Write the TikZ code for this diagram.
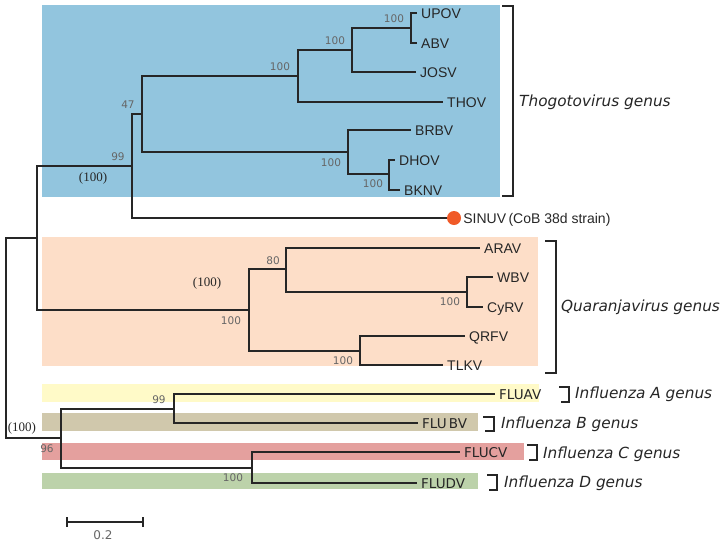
\documentclass[tikz,border=0pt]{standalone}
\usepackage{fontspec}
\setmainfont{Liberation Sans}
\newfontfamily\dvs{DejaVu Sans}
\newfontfamily\lserif{Liberation Serif}
\definecolor{thogo}{RGB}{146,197,222}
\definecolor{quara}{RGB}{253,222,200}
\definecolor{fluA}{RGB}{255,250,200}
\definecolor{fluB}{RGB}{208,200,172}
\definecolor{fluC}{RGB}{228,160,158}
\definecolor{fluD}{RGB}{188,210,170}
\definecolor{dotcol}{RGB}{240,90,40}
\tikzset{
  br/.style={line width=1.6pt, black!85},
  brk/.style={line width=1.6pt, black!85},
  taxon/.style={anchor=west, inner xsep=4pt, inner ysep=0pt, text height=10pt, text depth=0pt, font=\fontsize{14}{14}\selectfont, text=black!85},
  flu/.style={taxon, font=\dvs\fontsize{13.5}{14}\selectfont},
  boot/.style={inner sep=0pt, font=\dvs\fontsize{10.5}{10.5}\selectfont, text=black!60},
  pboot/.style={inner sep=0pt, font=\lserif\fontsize{13}{13}\selectfont, text=black!85},
  genus/.style={anchor=base west, inner sep=0pt, font=\dvs\itshape\fontsize{15.3}{16}\selectfont, text=black!85},
}
\begin{document}
\begin{tikzpicture}[x=1pt,y=-1pt]
\useasboundingbox (0,0) rectangle (725,544);
% colour bands
\fill[thogo] (42,5) rectangle (500,197);
\fill[quara] (42,237) rectangle (538,366);
\fill[fluA] (42,384) rectangle (539,402);
\fill[fluB] (42,413) rectangle (478,431);
\fill[fluC] (42,443) rectangle (524,460);
\fill[fluD] (42,473) rectangle (478,489);
% internal nodes
\coordinate (r) at (6,338);
\coordinate (a) at (37,238);
\coordinate (t) at (132,166);
\coordinate (t1) at (142,114);
\coordinate (t2) at (298,76);
\coordinate (t4) at (352,50);
\coordinate (t5) at (411,28);
\coordinate (t3) at (348,152);
\coordinate (t6) at (389,174);
\coordinate (q) at (249,310);
\coordinate (q1) at (286,269);
\coordinate (q3) at (467,292);
\coordinate (q2) at (360,351);
\coordinate (f) at (61,438);
\coordinate (f1) at (174,409);
\coordinate (f2) at (252,468);
% leaves
\node[taxon] (UPOV) at (417,13) {UPOV};
\node[taxon] (ABV) at (417,43) {ABV};
\node[taxon] (JOSV) at (416,72) {JOSV};
\node[taxon] (THOV) at (443,102) {THOV};
\node[taxon] (BRBV) at (411,130) {BRBV};
\node[taxon] (DHOV) at (395,160) {DHOV};
\node[taxon] (BKNV) at (400,190) {BKNV};
\node[circle, fill=dotcol, minimum size=14pt, inner sep=0pt] (dot) at (454,218) {};
\node[taxon, inner xsep=2pt] (SINUV) at (dot.east) {SINUV\,(CoB 38d strain)};
\node[taxon] (ARAV) at (480,248) {ARAV};
\node[taxon] (WBV) at (493,277) {WBV};
\node[taxon] (CyRV) at (483,307) {CyRV};
\node[taxon] (QRFV) at (465,336) {QRFV};
\node[taxon] (TLKV) at (443,365) {TLKV};
\node[flu] (FLUAV) at (495,394) {FLUAV};
\node[flu] (FLUBV) at (418,423) {FLU\,BV};
\node[flu] (FLUCV) at (460,452) {FLUCV};
\node[flu] (FLUDV) at (417,483) {FLUDV};
% branches
\draw[br] (r) |- (a);
\draw[br] (r) |- (f);
\draw[br] (a) |- (t);
\draw[br] (a) |- (q);
\draw[br] (t) |- (t1);
\draw[br] (t) |- (dot.west);
\draw[br] (t1) |- (t2);
\draw[br] (t1) |- (t3);
\draw[br] (t2) |- (t4);
\draw[br] (t2) |- (THOV.west);
\draw[br] (t4) |- (t5);
\draw[br] (t4) |- (JOSV.west);
\draw[br] (t5) |- (UPOV.west);
\draw[br] (t5) |- (ABV.west);
\draw[br] (t3) |- (BRBV.west);
\draw[br] (t3) |- (t6);
\draw[br] (t6) |- (DHOV.west);
\draw[br] (t6) |- (BKNV.west);
\draw[br] (q) |- (q1);
\draw[br] (q) |- (q2);
\draw[br] (q1) |- (ARAV.west);
\draw[br] (q1) |- (q3);
\draw[br] (q3) |- (WBV.west);
\draw[br] (q3) |- (CyRV.west);
\draw[br] (q2) |- (QRFV.west);
\draw[br] (q2) |- (TLKV.west);
\draw[br] (f) |- (f1);
\draw[br] (f) |- (f2);
\draw[br] (f1) |- (FLUAV.west);
\draw[br] (f1) |- (FLUBV.west);
\draw[br] (f2) |- (FLUCV.west);
\draw[br] (f2) |- (FLUDV.west);
% support values
\node[boot] (b1) at (394,19) {100};
\node[boot] (b2) at (335,41) {100};
\node[boot] (b3) at (280,67) {100};
\node[boot] (b4) at (331,163) {100};
\node[boot] (b5) at (373,184) {100};
\node[boot] (b6) at (128,105) {47};
\node[boot] (b7) at (118,157) {99};
\node[pboot] (p1) at (93,178) {(100)};
\node[pboot] (p2) at (207,283) {(100)};
\node[boot] (b8) at (231,321) {100};
\node[boot] (b9) at (273,261) {80};
\node[boot] (b10) at (450,302) {100};
\node[boot] (b11) at (343,361) {100};
\node[boot] (b12) at (159,400) {99};
\node[pboot] (p3) at (22,428) {(100)};
\node[boot] (b13) at (47,449) {96};
\node[boot] (b14) at (233,478) {100};
% brackets
\draw[brk] (502,6) -- (513,6) -- (513,196) -- (502,196);
\draw[brk] (545,241) -- (556,241) -- (556,373) -- (545,373);
\draw[brk] (559,387) -- (569,387) -- (569,402) -- (561,402);
\draw[brk] (483,417) -- (494,417) -- (494,431) -- (485,431);
\draw[brk] (527,445) -- (537,445) -- (537,460) -- (529,460);
\draw[brk] (487,475) -- (497,475) -- (497,490) -- (489,490);
% genus labels
\node[genus] (gT) at (519,106) {Thogotovirus genus};
\node[genus] (gQ) at (561,311) {Quaranjavirus genus};
\node[genus] (gA) at (575,398) {Influenza A genus};
\node[genus] (gB) at (501,428) {Influenza B genus};
\node[genus] (gC) at (543,458) {Influenza C genus};
\node[genus] (gD) at (504,487) {Influenza D genus};
% scale bar
\coordinate (s1) at (67,522);
\coordinate (s2) at (143,522);
\draw[br, line width=1.2pt] (s1) -- (s2);
\draw[br, line width=1.2pt] ([yshift=5pt]s1) -- ([yshift=-5pt]s1);
\draw[br, line width=1.2pt] ([yshift=5pt]s2) -- ([yshift=-5pt]s2);
\node[boot, font=\dvs\fontsize{12}{12}\selectfont] (sl) at (103,535) {0.2};
\end{tikzpicture}
\end{document}
